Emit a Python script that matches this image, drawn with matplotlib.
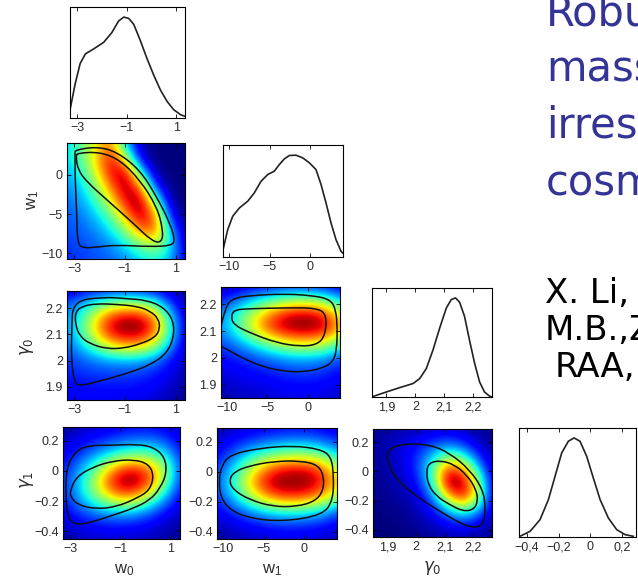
import numpy as np
import matplotlib
matplotlib.use("Agg")
import matplotlib.pyplot as plt
from matplotlib.path import Path
from matplotlib.patches import PathPatch

plt.rcParams["font.family"] = ["Liberation Sans", "DejaVu Sans"]
plt.rcParams["mathtext.fontset"] = "dejavusans"

FIG_W, FIG_H = 638, 584

# ---------------------------------------------------------------- axes ranges / ticks
w0_lim = (-3.28, 1.36)
w1_lim = (-10.7, 4.0)
g0_lim = (1.85, 2.265)
g1_lim = (-0.45, 0.29)

w0_ticks = [-3, -1, 1]
w0_ticklabels = ["\u22123", "\u22121", "1"]
w1_ticks = [-10, -5, 0]
w1_ticklabels = ["\u221210", "\u22125", "0"]
g0_ticks = [1.9, 2.0, 2.1, 2.2]
g0_xticklabels = ["1,9", "2", "2,1", "2,2"]
g0_yticklabels = ["1.9", "2", "2.1", "2.2"]
g1_ticks = [-0.4, -0.2, 0.0, 0.2]
g1_xticklabels = ["\u22120,4", "\u22120,2", "0", "0,2"]
g1_yticklabels = ["\u22120.4", "\u22120.2", "0", "0.2"]

# ---------------------------------------------------------------- 1D marginals
w0_pdf_x = [-3.28, -3.07, -2.87, -2.66, -2.33, -1.92, -1.59, -1.32, -1.11, -0.91,
            -0.71, -0.44, -0.17, 0.10, 0.37, 0.64, 0.91, 1.18, 1.36]
w0_pdf_y = [0.08, 0.34, 0.54, 0.635, 0.684, 0.75, 0.847, 0.961, 1.0, 0.987,
            0.929, 0.766, 0.587, 0.424, 0.277, 0.163, 0.081, 0.033, 0.016]

w1_pdf_x = [-10.7, -10.12, -9.51, -8.69, -7.67, -6.86, -6.04, -5.22, -4.41, -3.80, -3.18,
            -2.57, -1.76, -0.94, -0.12, 0.69, 1.31, 1.92, 2.53, 3.14, 3.76, 3.96]
w1_pdf_y = [0.07, 0.269, 0.400, 0.482, 0.548, 0.630, 0.744, 0.810, 0.843, 0.908, 0.964,
            0.997, 1.0, 0.974, 0.925, 0.859, 0.712, 0.531, 0.335, 0.171, 0.056, 0.039]

g0_pdf_x = [1.853, 1.900, 1.946, 1.992, 2.015, 2.038, 2.061, 2.084, 2.107, 2.124,
            2.139, 2.153, 2.170, 2.187, 2.205, 2.222, 2.239, 2.256, 2.265]
g0_pdf_y = [0.005, 0.051, 0.095, 0.136, 0.186, 0.288, 0.475, 0.695, 0.898, 0.983,
            1.0, 0.956, 0.814, 0.576, 0.339, 0.153, 0.051, 0.010, 0.0]

g1_pdf_x = [-0.444, -0.380, -0.317, -0.264, -0.222, -0.180, -0.138, -0.102,
            -0.064, -0.022, 0.020, 0.063, 0.115, 0.168, 0.221, 0.273]
g1_pdf_y = [0.007, 0.057, 0.175, 0.377, 0.613, 0.848, 0.966, 1.0,
            0.966, 0.815, 0.596, 0.377, 0.192, 0.074, 0.024, 0.007]

# ---------------------------------------------------------------- 2D mean likelihood grids
# 9x9 nodes spanning the axis ranges; rows run from the top (max y) to the bottom
dens_w0_w1 = [
    [0.32, 0.47, 0.64, 0.78, 0.28, 0.05, 0.00, 0.00, 0.00],
    [0.34, 0.47, 0.70, 0.92, 0.55, 0.06, 0.00, 0.00, 0.00],
    [0.30, 0.40, 0.64, 0.93, 0.95, 0.35, 0.02, 0.00, 0.00],
    [0.26, 0.34, 0.52, 0.80, 1.00, 0.78, 0.14, 0.00, 0.00],
    [0.23, 0.29, 0.42, 0.64, 0.93, 1.00, 0.48, 0.03, 0.00],
    [0.21, 0.25, 0.33, 0.47, 0.75, 0.99, 0.78, 0.13, 0.00],
    [0.20, 0.22, 0.27, 0.36, 0.52, 0.80, 0.82, 0.32, 0.02],
    [0.18, 0.20, 0.22, 0.27, 0.36, 0.50, 0.58, 0.37, 0.06],
    [0.16, 0.18, 0.20, 0.22, 0.27, 0.33, 0.38, 0.30, 0.10],
]
dens_w0_g0 = [
    [0.08, 0.10, 0.12, 0.14, 0.15, 0.14, 0.10, 0.05, 0.02],
    [0.20, 0.30, 0.42, 0.52, 0.56, 0.54, 0.44, 0.20, 0.05],
    [0.25, 0.42, 0.66, 0.88, 0.96, 0.94, 0.76, 0.36, 0.08],
    [0.25, 0.44, 0.70, 0.93, 1.00, 0.99, 0.80, 0.40, 0.08],
    [0.22, 0.34, 0.50, 0.66, 0.74, 0.72, 0.55, 0.29, 0.07],
    [0.18, 0.22, 0.27, 0.31, 0.33, 0.31, 0.26, 0.15, 0.05],
    [0.15, 0.17, 0.18, 0.19, 0.19, 0.18, 0.15, 0.10, 0.04],
    [0.12, 0.13, 0.14, 0.14, 0.14, 0.13, 0.11, 0.07, 0.03],
    [0.10, 0.10, 0.10, 0.10, 0.10, 0.09, 0.07, 0.04, 0.02],
]
dens_w1_g0 = [
    [0.05, 0.07, 0.10, 0.12, 0.14, 0.15, 0.15, 0.12, 0.08],
    [0.15, 0.22, 0.31, 0.40, 0.48, 0.53, 0.53, 0.48, 0.32],
    [0.25, 0.39, 0.56, 0.74, 0.88, 0.95, 0.95, 0.86, 0.60],
    [0.27, 0.41, 0.62, 0.81, 0.95, 1.00, 1.00, 0.94, 0.70],
    [0.20, 0.27, 0.38, 0.50, 0.61, 0.68, 0.68, 0.62, 0.44],
    [0.13, 0.16, 0.20, 0.25, 0.30, 0.33, 0.33, 0.30, 0.22],
    [0.09, 0.11, 0.13, 0.15, 0.17, 0.19, 0.19, 0.17, 0.13],
    [0.06, 0.08, 0.09, 0.10, 0.12, 0.13, 0.13, 0.12, 0.09],
    [0.04, 0.05, 0.06, 0.07, 0.08, 0.09, 0.09, 0.08, 0.06],
]
dens_w0_g1 = [
    [0.03, 0.05, 0.07, 0.09, 0.11, 0.12, 0.12, 0.10, 0.06],
    [0.06, 0.10, 0.14, 0.18, 0.22, 0.25, 0.25, 0.20, 0.10],
    [0.10, 0.17, 0.26, 0.36, 0.45, 0.49, 0.47, 0.36, 0.15],
    [0.14, 0.26, 0.43, 0.66, 0.86, 0.90, 0.78, 0.52, 0.18],
    [0.16, 0.31, 0.53, 0.82, 1.00, 0.99, 0.80, 0.47, 0.15],
    [0.15, 0.28, 0.44, 0.62, 0.75, 0.70, 0.51, 0.29, 0.10],
    [0.10, 0.18, 0.25, 0.31, 0.34, 0.31, 0.23, 0.13, 0.06],
    [0.06, 0.10, 0.12, 0.14, 0.14, 0.13, 0.10, 0.06, 0.03],
    [0.03, 0.05, 0.06, 0.07, 0.07, 0.06, 0.05, 0.03, 0.02],
]
dens_w1_g1 = [
    [0.04, 0.06, 0.08, 0.10, 0.11, 0.12, 0.12, 0.10, 0.07],
    [0.07, 0.12, 0.17, 0.21, 0.24, 0.26, 0.26, 0.23, 0.17],
    [0.12, 0.22, 0.34, 0.44, 0.51, 0.55, 0.55, 0.49, 0.36],
    [0.17, 0.33, 0.53, 0.74, 0.88, 0.93, 0.92, 0.83, 0.58],
    [0.20, 0.39, 0.63, 0.88, 1.00, 1.00, 1.00, 0.90, 0.68],
    [0.17, 0.31, 0.50, 0.68, 0.82, 0.86, 0.82, 0.72, 0.52],
    [0.10, 0.17, 0.25, 0.33, 0.38, 0.40, 0.38, 0.33, 0.22],
    [0.05, 0.08, 0.11, 0.14, 0.16, 0.17, 0.16, 0.14, 0.10],
    [0.03, 0.04, 0.05, 0.07, 0.08, 0.08, 0.08, 0.07, 0.05],
]
dens_g0_g1 = [
    [0.02, 0.03, 0.04, 0.05, 0.07, 0.08, 0.06, 0.03, 0.01],
    [0.02, 0.05, 0.08, 0.12, 0.17, 0.21, 0.16, 0.07, 0.02],
    [0.02, 0.05, 0.09, 0.17, 0.32, 0.50, 0.42, 0.18, 0.04],
    [0.02, 0.04, 0.08, 0.17, 0.44, 0.88, 0.82, 0.38, 0.06],
    [0.01, 0.03, 0.06, 0.13, 0.38, 1.00, 1.00, 0.60, 0.08],
    [0.01, 0.02, 0.04, 0.08, 0.24, 0.66, 0.92, 0.60, 0.08],
    [0.00, 0.01, 0.02, 0.05, 0.12, 0.30, 0.46, 0.32, 0.06],
    [0.00, 0.00, 0.01, 0.03, 0.06, 0.10, 0.15, 0.10, 0.03],
    [0.00, 0.00, 0.00, 0.01, 0.03, 0.04, 0.05, 0.04, 0.01],
]

# ---------------------------------------------------------------- 68% / 95% contours (x, y)
w0_w1_c95 = [(-2.965, 3.11), (-2.113, 3.54), (-1.327, 2.90), (-0.41, 0.58), (0.246, -2.80),
             (0.77, -6.18), (0.967, -8.29), (0.836, -9.01), (-0.016, -9.14), (-1.327, -8.93),
             (-1.982, -9.14), (-2.638, -9.35), (-2.874, -8.71), (-2.90, -4.49), (-2.965, -0.27),
             (-2.965, 2.69)]
w0_w1_c68 = [(-2.887, 2.73), (-1.982, 2.86), (-1.196, 1.85), (-0.41, -0.69), (0.259, -4.11),
             (0.495, -7.02), (0.456, -8.55), (0.102, -8.55), (-0.685, -6.14), (-1.707, -3.22),
             (-2.494, -0.94), (-2.847, 0.58), (-2.926, 2.23)]

w0_g0_c95 = [(-3.045, 2.227), (-1.842, 2.242), (-0.927, 2.236), (-0.143, 2.230), (0.510, 2.204),
             (0.902, 2.154), (0.929, 2.090), (0.641, 2.027), (-0.012, 1.983), (-0.927, 1.951),
             (-1.842, 1.926), (-2.757, 1.903), (-2.992, 1.916), (-3.110, 2.002), (-3.097, 2.116)]
w0_g0_c68 = [(-2.953, 2.185), (-2.692, 2.207), (-2.104, 2.217), (-1.320, 2.214), (-0.535, 2.207),
             (-0.013, 2.189), (0.314, 2.160), (0.380, 2.122), (0.184, 2.088), (-0.405, 2.063),
             (-1.058, 2.047), (-1.712, 2.045), (-2.365, 2.063), (-2.783, 2.093), (-2.953, 2.139)]

w1_g0_c95 = [(-10.7, 2.118), (-10.166, 2.193), (-9.140, 2.224), (-6.676, 2.234), (-2.981, 2.239),
             (0.304, 2.234), (2.768, 2.220), (3.507, 2.180), (3.671, 2.106), (3.589, 2.031),
             (3.178, 1.987), (1.947, 1.962), (-0.517, 1.947), (-2.981, 1.950), (-5.444, 1.966),
             (-7.908, 1.997), (-9.550, 2.025), (-10.7, 2.043)]
w1_g0_c68 = [(-9.468, 2.155), (-9.058, 2.180), (-7.087, 2.184), (-2.981, 2.187), (1.125, 2.187),
             (2.357, 2.162), (2.152, 2.081), (1.125, 2.049), (-0.928, 2.043), (-3.802, 2.056),
             (-7.087, 2.093), (-9.140, 2.124)]

w0_g1_c95 = [(-3.147, 0.0265), (-2.750, 0.136), (-2.219, 0.169), (-1.424, 0.169), (-0.363, 0.176),
             (0.299, 0.158), (0.763, 0.092), (0.830, -0.017), (0.564, -0.116), (0.167, -0.193),
             (-0.496, -0.248), (-1.291, -0.292), (-2.087, -0.336), (-2.750, -0.358),
             (-3.081, -0.314), (-3.174, -0.171)]
w0_g1_c68 = [(-2.988, -0.127), (-2.750, -0.039), (-2.087, 0.0265), (-1.291, 0.066), (-0.496, 0.075),
             (0.101, 0.048), (0.326, -0.028), (0.167, -0.127), (-0.363, -0.182), (-1.159, -0.237),
             (-1.954, -0.252), (-2.683, -0.226), (-2.988, -0.171)]

w1_g1_c95 = [(-10.292, -0.167), (-10.455, -0.0555), (-10.169, 0.0337), (-9.148, 0.112),
             (-5.473, 0.156), (-1.390, 0.172), (1.877, 0.150), (3.306, 0.101), (3.592, -0.0332),
             (3.510, -0.189), (2.285, -0.290), (-2.615, -0.334), (-6.698, -0.312), (-9.148, -0.256)]
w1_g1_c68 = [(-9.230, -0.0555), (-8.536, 0.000), (-6.698, 0.0381), (-3.840, 0.067), (-0.573, 0.072),
             (1.673, 0.045), (2.408, -0.0332), (2.285, -0.133), (1.264, -0.200), (-0.982, -0.234),
             (-3.840, -0.234), (-6.698, -0.189), (-8.740, -0.122)]

g0_g1_c95 = [(1.899, 0.148), (1.955, 0.190), (2.048, 0.183), (2.117, 0.126), (2.187, 0.011),
             (2.234, -0.126), (2.243, -0.263), (2.234, -0.366), (2.199, -0.388), (2.152, -0.354),
             (2.083, -0.274), (2.001, -0.171), (1.931, -0.057), (1.902, 0.057)]
g0_g1_c68 = [(2.036, 0.0), (2.045, 0.057), (2.083, 0.075), (2.135, 0.046), (2.181, -0.034),
             (2.210, -0.126), (2.216, -0.206), (2.201, -0.263), (2.164, -0.274), (2.117, -0.228),
             (2.071, -0.171), (2.042, -0.091)]

# ---------------------------------------------------------------- figure
fig = plt.figure(figsize=(FIG_W / 100, FIG_H / 100), dpi=100)
TICK_COLOR = "#2b2b2b"
TICK_SIZE = 9


def add_px_axes(left, top, right, bottom):
    return fig.add_axes([left / FIG_W, 1 - bottom / FIG_H,
                         (right - left) / FIG_W, (bottom - top) / FIG_H])


def style(ax):
    for s in ax.spines.values():
        s.set_linewidth(0.8)
        s.set_color("black")
    ax.tick_params(direction="in", length=3, width=0.6, top=True, right=True,
                   labelsize=TICK_SIZE, labelcolor=TICK_COLOR, pad=3)


def marginal(ax, x, y, lim, ticks, labels):
    ax.plot(x, y, color="#222222", lw=1.2)
    ax.set_xlim(lim)
    ax.set_ylim(0, 1.1)
    style(ax)
    ax.set_xticks(ticks)
    ax.set_xticklabels(labels)
    ax.set_yticks([])


def smooth_outline(ax, pts, closed=True):
    """Quadratic Bezier outline using the points as control vertices."""
    p = np.asarray(pts, dtype=float)
    if closed:
        mids = (p + np.roll(p, -1, axis=0)) / 2
        verts = [mids[-1]]
        codes = [Path.MOVETO]
        for i in range(len(p)):
            verts += [p[i], mids[i]]
            codes += [Path.CURVE3, Path.CURVE3]
    else:
        verts = [p[0]]
        codes = [Path.MOVETO]
        for i in range(1, len(p) - 1):
            verts += [p[i], (p[i] + p[i + 1]) / 2]
            codes += [Path.CURVE3, Path.CURVE3]
        verts.append(p[-1])
        codes.append(Path.LINETO)
    ax.add_patch(PathPatch(Path(verts, codes), fill=False, ec="#101010", lw=1.1))


def density(ax, grid, xlim, ylim, c68, c95, closed95=True):
    g = np.array(grid)[::-1]
    ny, nx = g.shape
    dx = (xlim[1] - xlim[0]) / (nx - 1)
    dy = (ylim[1] - ylim[0]) / (ny - 1)
    ax.imshow(g, origin="lower", cmap="jet", vmin=0, vmax=1, aspect="auto",
              interpolation="bicubic",
              extent=[xlim[0] - dx / 2, xlim[1] + dx / 2, ylim[0] - dy / 2, ylim[1] + dy / 2])
    smooth_outline(ax, c95, closed95)
    smooth_outline(ax, c68, True)
    ax.set_xlim(xlim)
    ax.set_ylim(ylim)
    style(ax)


# row 0
ax = add_px_axes(70, 7, 185, 118)
marginal(ax, w0_pdf_x, w0_pdf_y, w0_lim, w0_ticks, w0_ticklabels)

# row 1
ax = add_px_axes(67, 143, 185, 259)
density(ax, dens_w0_w1, w0_lim, w1_lim, w0_w1_c68, w0_w1_c95)
ax.set_xticks(w0_ticks); ax.set_xticklabels(w0_ticklabels)
ax.set_yticks(w1_ticks); ax.set_yticklabels(w1_ticklabels)

ax = add_px_axes(223, 145, 343, 257)
marginal(ax, w1_pdf_x, w1_pdf_y, w1_lim, w1_ticks, w1_ticklabels)

# row 2
ax = add_px_axes(67, 291, 185, 400)
density(ax, dens_w0_g0, w0_lim, g0_lim, w0_g0_c68, w0_g0_c95)
ax.set_xticks(w0_ticks); ax.set_xticklabels(w0_ticklabels)
ax.set_yticks(g0_ticks); ax.set_yticklabels(g0_yticklabels)

ax = add_px_axes(221, 287, 340, 398)
density(ax, dens_w1_g0, w1_lim, g0_lim, w1_g0_c68, w1_g0_c95, closed95=False)
ax.set_xticks(w1_ticks); ax.set_xticklabels(w1_ticklabels)
ax.set_yticks(g0_ticks); ax.set_yticklabels(g0_yticklabels)

ax = add_px_axes(372, 288, 492, 397)
marginal(ax, g0_pdf_x, g0_pdf_y, g0_lim, g0_ticks, g0_xticklabels)

# row 3
ax = add_px_axes(63, 427, 180, 539)
density(ax, dens_w0_g1, w0_lim, g1_lim, w0_g1_c68, w0_g1_c95)
ax.set_xticks(w0_ticks); ax.set_xticklabels(w0_ticklabels)
ax.set_yticks(g1_ticks); ax.set_yticklabels(g1_yticklabels)

ax = add_px_axes(217, 428, 337, 539)
density(ax, dens_w1_g1, w1_lim, g1_lim, w1_g1_c68, w1_g1_c95)
ax.set_xticks(w1_ticks); ax.set_xticklabels(w1_ticklabels)
ax.set_yticks(g1_ticks); ax.set_yticklabels(g1_yticklabels)

ax = add_px_axes(373, 429, 492, 537)
density(ax, dens_g0_g1, g0_lim, g1_lim, g0_g1_c68, g0_g1_c95)
ax.set_xticks(g0_ticks); ax.set_xticklabels(g0_xticklabels)
ax.set_yticks(g1_ticks); ax.set_yticklabels(g1_yticklabels)

ax = add_px_axes(519, 428, 636, 537)
marginal(ax, g1_pdf_x, g1_pdf_y, g1_lim, g1_ticks, g1_xticklabels)

# ---------------------------------------------------------------- parameter names
def ptext(x, y, s, **kw):
    fig.text(x / FIG_W, 1 - y / FIG_H, s, color="#2b2b2b", fontsize=12,
             ha="center", va="center", **kw)

ptext(124, 570, r"$\mathregular{w_0}$")
ptext(272, 570, r"$\mathregular{w_1}$")
ptext(432, 568, r"$\gamma_0$")
ptext(33, 200, r"$\mathregular{w_1}$", rotation=90)
ptext(27, 347, r"$\gamma_0$", rotation=90)
ptext(27, 480, r"$\gamma_1$", rotation=90)

# ---------------------------------------------------------------- side notes
blue = "#343496"
for txt, base in (("Robu", 25), ("mass", 82), ("irres", 138), ("cosm", 195)):
    fig.text(546 / FIG_W, 1 - base / FIG_H, txt, color=blue, fontsize=30,
             family="DejaVu Sans", ha="left", va="baseline")
for txt, xpos, base in (("X. Li,", 545, 303), ("M.B.,Z", 545, 340), ("RAA,", 555, 377)):
    fig.text(xpos / FIG_W, 1 - base / FIG_H, txt, color="black", fontsize=24.5,
             family="DejaVu Sans", ha="left", va="baseline")

fig.savefig("out.png", dpi=100)
